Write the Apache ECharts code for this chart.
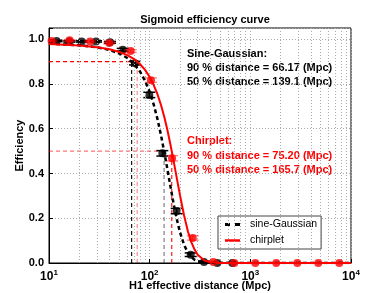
<!DOCTYPE html>
<html>
<head>
<meta charset="utf-8">
<script src="https://cdn.jsdelivr.net/npm/echarts@6/dist/echarts.min.js"></script>
<style>html,body{margin:0;padding:0;background:#fff;}#c{width:390px;height:293px;}</style>
</head>
<body>
<div id="c"></div>
<script>
// ---- data ----
const sgDist = [11.9, 15.9, 21.1, 29.3, 40.4, 54.0, 71.5, 99.2, 133.7, 185.6, 255.6, 346.5, 469.7, 662];
const sgEff  = [0.992, 0.99, 0.99, 0.99, 0.986, 0.953, 0.893, 0.751, 0.49, 0.232, 0.037, 0.005, 0.0, 0.0];
const sgErr  = [0.003, 0.003, 0.003, 0.003, 0.004, 0.006, 0.008, 0.012, 0.012, 0.012, 0.008, 0.003, 0.002, 0.002];
const chDist = [10.6, 16.0, 25.6, 39.7, 64.8, 103, 167, 268, 429, 693, 1120, 1810, 2930, 4730, 7650];
const chEff  = [0.992, 0.995, 0.99, 0.983, 0.947, 0.817, 0.468, 0.112, 0.005, 0, 0, 0, 0, 0, 0];
const chErr  = [0.003, 0.003, 0.003, 0.004, 0.006, 0.01, 0.012, 0.01, 0.003, 0.002, 0.002, 0.002, 0.002, 0.002, 0.002];
const curveDist = [10, 20, 30, 40, 50, 60, 70, 80, 90, 100, 110, 120, 130, 140, 150, 160, 170, 180, 190, 200, 220, 240, 260, 280, 300, 350, 400, 450, 500, 700, 1000, 3000, 10000];
const sgCurve = [0.980, 0.973, 0.964, 0.952, 0.936, 0.916, 0.889, 0.856, 0.814, 0.765, 0.706, 0.640, 0.568, 0.493, 0.419, 0.348, 0.283, 0.226, 0.178, 0.138, 0.080, 0.046, 0.026, 0.014, 0.008, 0.002, 0.0, 0, 0, 0, 0, 0, 0];
const chCurve = [0.978, 0.972, 0.964, 0.955, 0.943, 0.929, 0.911, 0.889, 0.863, 0.831, 0.794, 0.752, 0.704, 0.651, 0.594, 0.534, 0.474, 0.414, 0.357, 0.303, 0.211, 0.141, 0.092, 0.059, 0.037, 0.011, 0.003, 0.001, 0, 0, 0, 0, 0];
const sgDistances = [66.17, 139.1];   // 90 %, 50 %
const chDistances = [75.20, 165.7];
const levels = [0.9, 0.5];
const minorTicks = [20,30,40,50,60,70,80,90,200,300,400,500,600,700,800,900,2000,3000,4000,5000,6000,7000,8000,9000];
const yTicks = [0, 0.2, 0.4, 0.6, 0.8, 1.0];

const FONT = '"Liberation Sans", Arial, sans-serif';
const pairs = (xs, ys) => xs.map((x, i) => [x, ys[i]]);
const triples = (xs, ys, es) => xs.map((x, i) => [x, ys[i], es[i]]);

function errRender(color) {
  return function (params, api) {
    const x = api.value(0), y = api.value(1), e = api.value(2);
    const lo = api.coord([x, y - e]), hi = api.coord([x, y + e]);
    const cw = 6;
    const st = { stroke: color, lineWidth: 1.5 };
    return { type: 'group', children: [
      { type: 'line', shape: { x1: lo[0], y1: lo[1], x2: hi[0], y2: hi[1] }, style: st },
      { type: 'line', shape: { x1: lo[0] - cw, y1: lo[1], x2: lo[0] + cw, y2: lo[1] }, style: st },
      { type: 'line', shape: { x1: hi[0] - cw, y1: hi[1], x2: hi[0] + cw, y2: hi[1] }, style: st }
    ]};
  };
}

const chart = echarts.init(document.getElementById('c'), null, { renderer: 'canvas' });

const refSegs = [
  { a: [sgDistances[0], 0], b: [sgDistances[0], levels[0]], color: 'rgba(0,0,0,0.9)' },
  { a: [sgDistances[1], 0], b: [sgDistances[1], levels[1]], color: 'rgba(0,0,0,0.5)' },
  { a: [chDistances[0], 0], b: [chDistances[0], levels[0]], color: 'rgba(255,0,0,0.45)' },
  { a: [chDistances[1], 0], b: [chDistances[1], levels[1]], color: 'rgba(255,0,0,0.9)' },
  { a: [10, levels[0]], b: [sgDistances[0], levels[0]], color: '#ff0000' },
  { a: [10, levels[1]], b: [sgDistances[1], levels[1]], color: 'rgba(255,0,0,0.55)' }
];

const option = {
  animation: false,
  backgroundColor: '#fff',
  title: {
    text: 'Sigmoid efficiency curve', left: 200, textAlign: 'center', top: 9,
    textStyle: { fontFamily: FONT, fontSize: 11, fontWeight: 'bold', color: '#000' }
  },
  grid: { left: 49, right: 39, top: 28, bottom: 30, show: true, borderColor: '#000', borderWidth: 1,
          containLabel: false, outerBoundsMode: 'none' },
  legend: {
    left: 218, top: 216, orient: 'vertical',
    data: [
      { name: 'sine-Gaussian', icon: 'path://M0,0h5v3h-5z M10,0h5v3h-5z', itemStyle: { color: '#000' } },
      { name: 'chirplet', icon: 'path://M0,0h15v2.5h-15z', itemStyle: { color: '#ff0000' } }
    ],
    itemWidth: 15, itemHeight: 10, itemGap: 5,
    padding: [3, 4, 3, 7],
    borderColor: '#444', borderWidth: 1, borderRadius: 0, backgroundColor: '#fff',
    textStyle: { fontFamily: FONT, fontSize: 10.5, color: '#000', padding: [0, 0, 0, 5] }
  },
  xAxis: [{
    type: 'log', logBase: 10, min: 10, max: 10000,
    name: 'H1 effective distance (Mpc)', nameLocation: 'middle', nameGap: 17, nameMoveOverlap: false,
    nameTextStyle: { fontFamily: FONT, fontSize: 11, fontWeight: 'bold', color: '#000' },
    axisLine: { lineStyle: { color: '#000' } },
    axisTick: { inside: true, length: 4, lineStyle: { color: '#000' } },
    axisLabel: {
      margin: 6, color: '#000', fontFamily: FONT, fontSize: 12, fontWeight: 'bold',
      formatter: v => '10{sup|' + Math.round(Math.log10(v)) + '}',
      rich: { sup: { fontFamily: FONT, fontSize: 8, fontWeight: 'bold', color: '#000', verticalAlign: 'top', padding: [0, 0, 7, 0] } }
    },
    splitLine: { show: true, lineStyle: { color: '#aaa', type: [1, 2] } }
  }],
  yAxis: [{
    type: 'value', min: 0, max: 1.05, interval: 0.2,
    name: 'Efficiency', nameLocation: 'middle', nameGap: 24, nameMoveOverlap: false,
    nameTextStyle: { fontFamily: FONT, fontSize: 11, fontWeight: 'bold', color: '#000' },
    axisLine: { show: true, lineStyle: { color: '#000' } },
    axisTick: { show: true, inside: true, length: 4, lineStyle: { color: '#000' } },
    axisLabel: {
      margin: 5, color: '#000', fontFamily: FONT, fontSize: 11, fontWeight: 'bold',
      formatter: v => (yTicks.some(t => Math.abs(t - v) < 1e-6) ? v.toFixed(1) : '')
    },
    splitLine: { show: true, lineStyle: { color: '#aaa', type: [1, 2] } }
  }],
  graphic: [
    { type: 'text', left: 187, top: 48, style: { text: 'Sine-Gaussian:', font: 'bold 11px ' + FONT, fill: '#000' } },
    { type: 'text', left: 187, top: 62, style: { text: '90 % distance = ' + sgDistances[0].toFixed(2) + ' (Mpc)', font: 'bold 11px ' + FONT, fill: '#000' } },
    { type: 'text', left: 187, top: 76, style: { text: '50 % distance = ' + sgDistances[1].toFixed(1) + ' (Mpc)', font: 'bold 11px ' + FONT, fill: '#000' } },
    { type: 'text', left: 187, top: 135, style: { text: 'Chirplet:', font: 'bold 11px ' + FONT, fill: '#ff0000' } },
    { type: 'text', left: 187, top: 150, style: { text: '90 % distance = ' + chDistances[0].toFixed(2) + ' (Mpc)', font: 'bold 11px ' + FONT, fill: '#ff0000' } },
    { type: 'text', left: 187, top: 164, style: { text: '50 % distance = ' + chDistances[1].toFixed(1) + ' (Mpc)', font: 'bold 11px ' + FONT, fill: '#ff0000' } }
  ],
  series: [
    {
      name: 'minorGrid', type: 'line', data: [], silent: true,
      markLine: {
        silent: true, symbol: 'none', label: { show: false },
        lineStyle: { color: '#aaa', type: [1, 2], width: 1 },
        data: minorTicks.map(v => ({ xAxis: v }))
      }
    }
  ].concat(refSegs.map((s, i) => ({
      name: 'ref' + i, type: 'line', data: [s.a, s.b], symbol: 'none', silent: true, z: 3,
      lineStyle: { color: s.color, type: [4, 3], width: 1.2 }, itemStyle: { color: s.color }
  }))).concat([
    {
      name: 'sgErr', type: 'custom', renderItem: errRender('#000'), data: triples(sgDist, sgEff, sgErr), z: 4, clip: true
    },
    {
      name: 'sgPts', type: 'scatter', data: pairs(sgDist, sgEff), symbol: 'circle', symbolSize: 8,
      itemStyle: { color: '#000' }, z: 4, clip: true
    },
    {
      name: 'chErr', type: 'custom', renderItem: errRender('rgba(255,0,0,0.45)'), data: triples(chDist, chEff, chErr), z: 5, clip: true
    },
    {
      name: 'chPts', type: 'scatter', data: pairs(chDist, chEff), symbol: 'circle', symbolSize: 8,
      itemStyle: { color: '#ff0000' }, z: 5, clip: true
    },
    {
      name: 'sine-Gaussian', type: 'line', data: pairs(curveDist, sgCurve), symbol: 'none', z: 6,
      lineStyle: { color: '#000', width: 2.5, type: [4, 3] }, itemStyle: { color: '#000' }
    },
    {
      name: 'chirplet', type: 'line', data: pairs(curveDist, chCurve), symbol: 'none', z: 6,
      lineStyle: { color: '#ff0000', width: 2 }, itemStyle: { color: '#ff0000' }
    }
  ])
};
chart.setOption(option);
</script>
</body>
</html>
